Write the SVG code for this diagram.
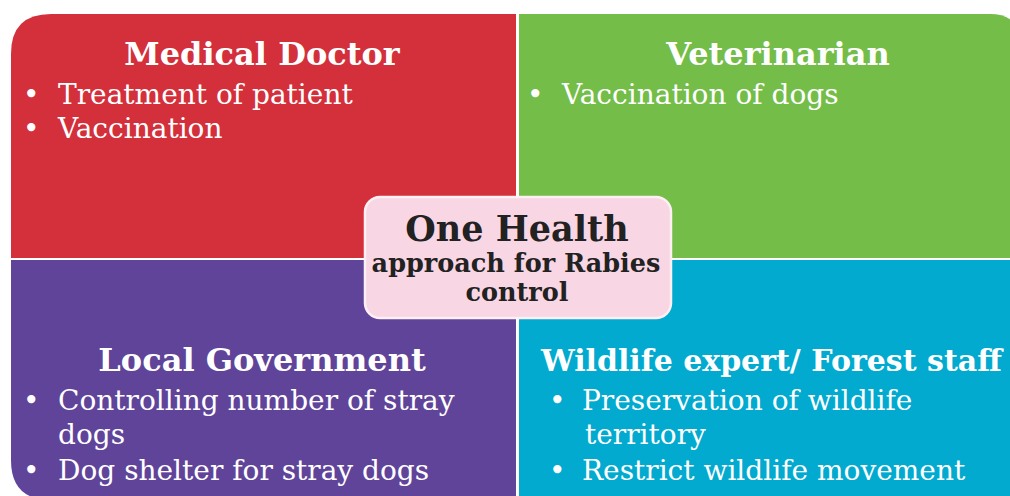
<svg xmlns="http://www.w3.org/2000/svg" width="1010" height="496" viewBox="0 0 1010 496">
<style>
.h{font-family:"DejaVu Serif","Liberation Serif",serif;font-weight:bold;fill:#fff;font-size:32px}
.t{font-family:"DejaVu Serif","Liberation Serif",serif;fill:#fff;font-size:28px}
.c{font-family:"DejaVu Serif","Liberation Serif",serif;font-weight:bold;fill:#222}
</style>
<rect width="1010" height="496" fill="#fff"/>
<g id="medical-doctor">
<path d="M11,54 Q11,14 51,14 L516,14 L516,258 L11,258 Z" fill="#D3303B"/>
<text class="h" x="262" y="65" text-anchor="middle">Medical Doctor</text>
<text class="t" x="23" y="104">•</text><text class="t" x="58" y="104">Treatment of patient</text>
<text class="t" x="23" y="138">•</text><text class="t" x="58" y="138">Vaccination</text>
</g>
<g id="veterinarian">
<path d="M519,14 L990,14 Q1020,14 1020,44 L1020,258 L519,258 Z" fill="#74BD48"/>
<text class="h" x="778" y="65" text-anchor="middle">Veterinarian</text>
<text class="t" x="527" y="104">•</text><text class="t" x="562" y="104">Vaccination of dogs</text>
</g>
<g id="local-government">
<path d="M11,260 L516,260 L516,500 L51,500 Q11,500 11,460 Z" fill="#60449A"/>
<text class="h" x="262" y="371" text-anchor="middle">Local Government</text>
<text class="t" x="23" y="410">•</text><text class="t" x="58" y="410">Controlling number of stray</text>
<text class="t" x="58" y="444">dogs</text>
<text class="t" x="23" y="480">•</text><text class="t" x="58" y="480">Dog shelter for stray dogs</text>
</g>
<g id="wildlife-expert">
<path d="M519,260 L1020,260 L1020,500 L519,500 Z" fill="#02AACF"/>
<text class="h" x="541" y="371" style="font-size:30px">Wildlife expert/ Forest staff</text>
<text class="t" x="549" y="410">•</text><text class="t" x="582" y="410">Preservation of wildlife</text>
<text class="t" x="585" y="444">territory</text>
<text class="t" x="549" y="480">•</text><text class="t" x="582" y="480">Restrict wildlife movement</text>
</g>
<g id="connectors"></g>
<g id="one-health">
<rect x="365" y="197" width="306" height="121" rx="15" fill="#F9D6E4" stroke="#fdf0f5" stroke-width="2.5"/>
<text class="c" x="517" y="241" text-anchor="middle" font-size="35">One Health</text>
<text class="c" x="516" y="272" text-anchor="middle" font-size="25.5">approach for Rabies</text>
<text class="c" x="517" y="301" text-anchor="middle" font-size="25.5">control</text>
</g>
</svg>
